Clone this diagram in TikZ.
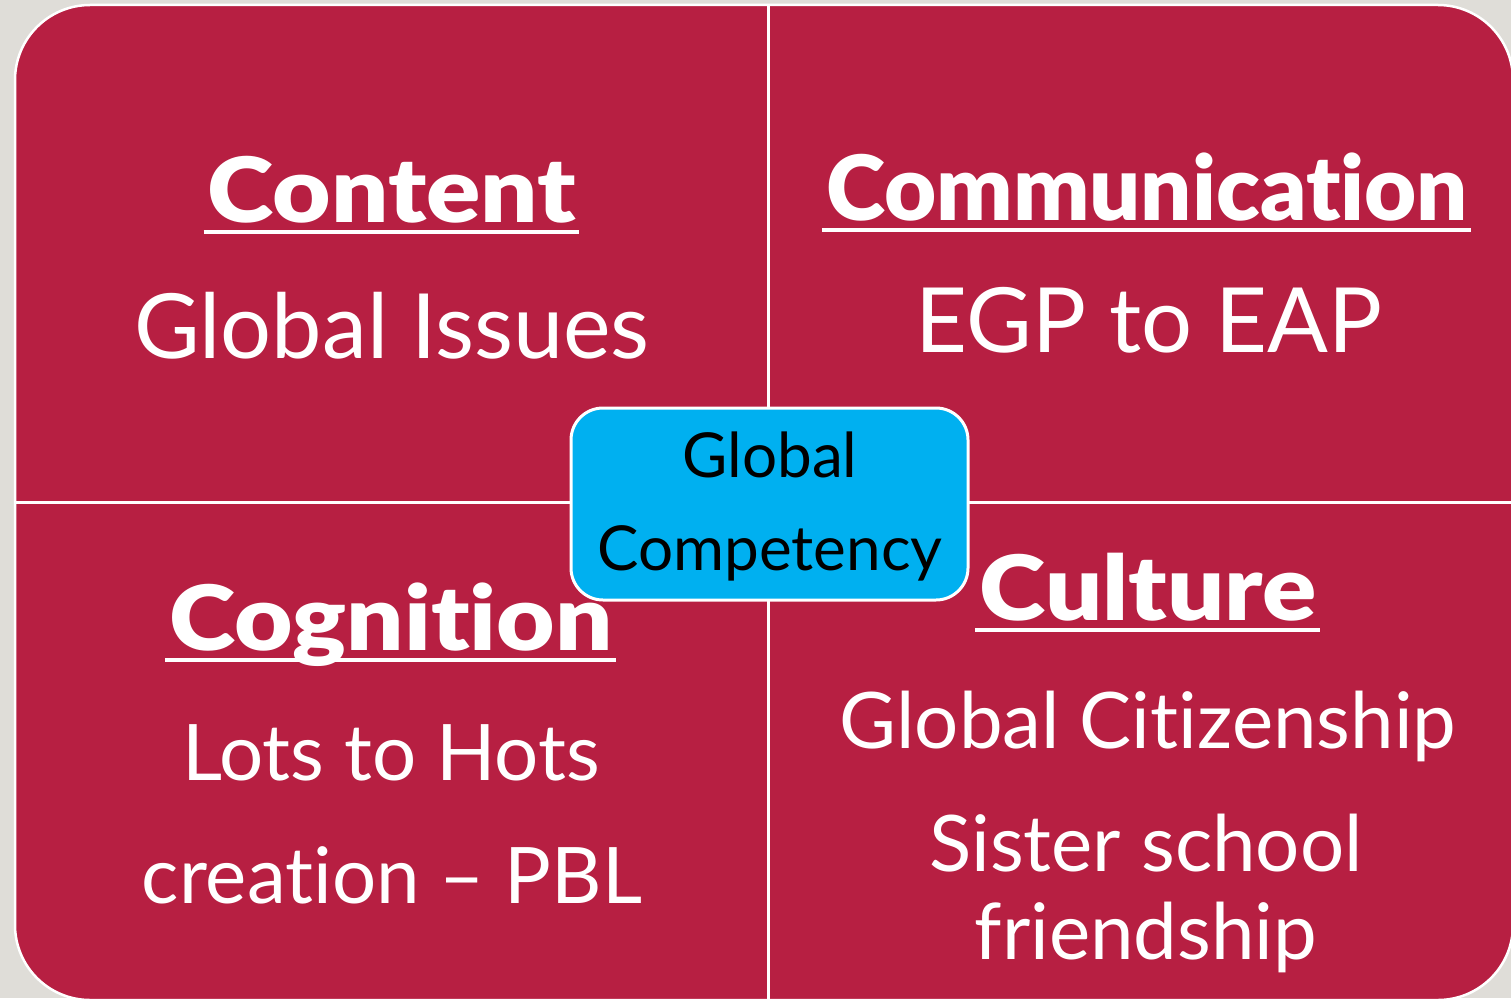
\documentclass[tikz,border=0pt]{standalone}
\usepackage{fontspec}
\setmainfont{Lato}[Ligatures=NoCommon]
\IfFontExistsTF{Lato Black}
  {\newfontfamily\headfont{Lato Black}[Ligatures=NoCommon]}
  {\newfontfamily\headfont{Lato}[Ligatures=NoCommon, UprightFont=*-Bold]}
\usepackage{tikz}

\definecolor{crimson}{HTML}{B71F42}
\definecolor{sky}{HTML}{00B0F0}
\definecolor{paper}{HTML}{DFDDD8}

% round letters of the titles run a little wider
\newcommand{\widen}[1]{\scalebox{1.12}[1]{#1}}

\tikzset{
  big/.style={text=white, inner sep=0pt, anchor=base, font=\fontsize{90}{90}\selectfont},
  small/.style={big, font=\fontsize{78}{78}\selectfont},
  head/.style={big, font=\fontsize{90}{90}\headfont},
  mid/.style={text=black, inner sep=0pt, anchor=base, font=\fontsize{62}{62}\selectfont},
  uline/.style={line width=4pt, white}
}

\begin{document}
\begin{tikzpicture}[x=1pt, y=-1pt]
    \useasboundingbox (0,0) rectangle (1511,998);
    \fill[paper] (0,0) rectangle (1511,998);

    % the four fields
    \draw[line width=2.5pt, white, fill=crimson, rounded corners=75pt] (15,5) rectangle (1513,1000);
    \draw[line width=3.5pt, white] (768.5,5) -- (768.5,1000);
    \draw[line width=3pt, white] (15,502.5) -- (1513,502.5);

    % top left
    \node[head] (content) at (392,222) {\widen{Content}};
    \node[big] (issues) at (392,358) {Global Issues};
    \draw[uline] ([xshift=-4pt, yshift=-10pt]content.base west) -- ([xshift=3pt, yshift=-10pt]content.base east);

    % top right
    \node[head] (comm) at (1147,220) {Communication};
    \node[big] (egp) at (1149,352) {EGP to EAP};
    \draw[uline] ([xshift=-4pt, yshift=-10pt]comm.base west) -- ([xshift=3pt, yshift=-10pt]comm.base east);

    % bottom left
    \node[head] (cog) at (391,650) {\widen{Cognition}};
    \node[small] (lots) at (391,780) {Lots to Hots};
    \node[small] (pbl) at (392,903) {creation -- PBL};
    \draw[uline] ([xshift=-4pt, yshift=-10pt]cog.base west) -- ([xshift=3pt, yshift=-10pt]cog.base east);

    % bottom right
    \node[head] (culture) at (1148,620) {\widen{Culture}};
    \node[small] (citizen) at (1148,748) {Global Citizenship};
    \node[small] (sister) at (1146,871) {Sister school};
    \node[small] (friend) at (1146,959) {friendship};
    \draw[uline] ([xshift=-4pt, yshift=-10pt]culture.base west) -- ([xshift=3pt, yshift=-10pt]culture.base east);

    % middle box
    \draw[line width=3pt, white, fill=sky, rounded corners=32pt] (571,408) rectangle (968,600);
    \node[mid] (global) at (770,477) {Global};
    \node[mid] (compet) at (770,570) {Competency};
\end{tikzpicture}
\end{document}
